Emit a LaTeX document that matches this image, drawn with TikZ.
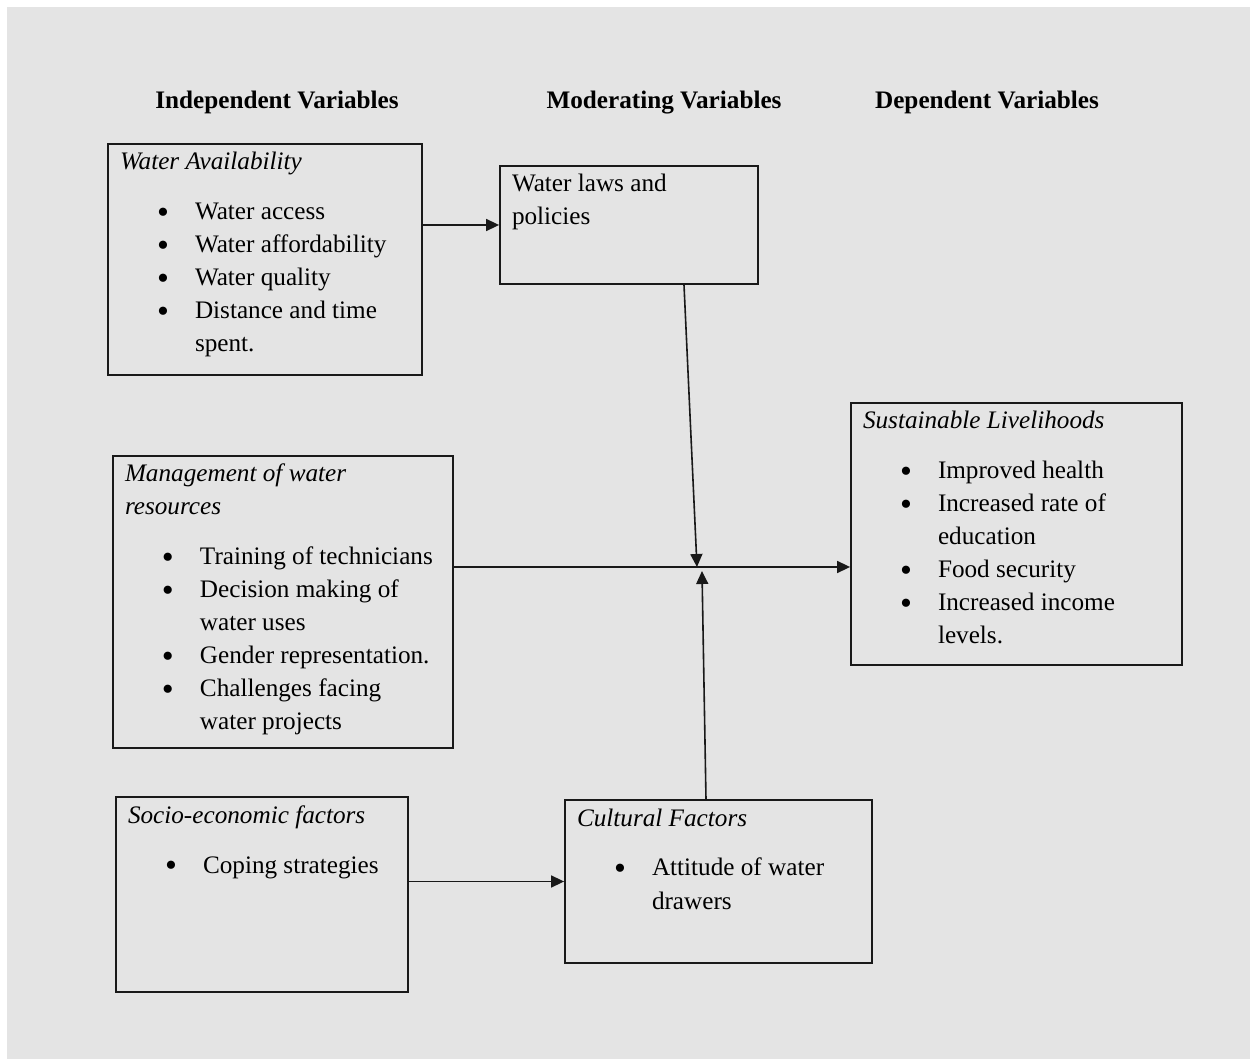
\documentclass[tikz,border=0pt]{standalone}
\usepackage{fontspec}
\setmainfont{Liberation Serif}
\usetikzlibrary{arrows.meta}
\definecolor{pagegray}{HTML}{E4E4E4}
\newcommand{\btitle}[1]{\rule{0pt}{13pt}\textit{#1}\par\vspace{8.5pt}}
\newcommand{\bitem}[1]{\par\noindent\hangindent=37.5pt\makebox[37.5pt][l]{\hspace{18.5pt}\raisebox{-1.8pt}{\scalebox{1.35}{\textbullet}}}#1}
\newcommand{\varbox}[5]{\node[varbox] at (#1) (#2) {\parbox[c][#4][t]{#3}{#5}}}

\begin{document}
\begin{tikzpicture}[x=0.5pt,y=-0.5pt,
    font=\fontsize{12.6pt}{16.5pt}\selectfont,
    varbox/.style={draw=black!90,line width=0.9pt,inner xsep=6pt,inner ysep=0pt},
    head/.style={anchor=base,font=\fontsize{12.6pt}{16.5pt}\selectfont\bfseries},
    link/.style={line width=0.8pt,black!90,-{Triangle[length=6.5pt,width=6pt]}}]
    \fill[white] (0,0) rectangle (1250,1059);
    \fill[pagegray] (7,7) rectangle (1250,1059);
    \useasboundingbox (0,0) rectangle (1250,1059);

    \node[head] at (277,109) (hInd) {Independent Variables};
    \node[head] at (664,109) (hMod) {Moderating Variables};
    \node[head] at (987,109) (hDep) {Dependent Variables};

    \varbox{265,259.5}{wa}{145pt}{115.5pt}{\btitle{Water Availability}
        \bitem{Water access}
        \bitem{Water affordability}
        \bitem{Water quality}
        \bitem{Distance and time\\ spent.}};
    \varbox{629,225}{wl}{117pt}{59pt}{\rule{0pt}{13pt}Water laws and\\ policies};
    \varbox{283,602}{mg}{158pt}{146pt}{\btitle{Management of water\\ resources}
        \bitem{Training of technicians}
        \bitem{Decision making of\\ water uses}
        \bitem{Gender representation.}
        \bitem{Challenges facing\\ water projects}};
    \varbox{1016.5,534}{sl}{153.5pt}{131pt}{\btitle{Sustainable Livelihoods}
        \bitem{Improved health}
        \bitem{Increased rate of\\ education}
        \bitem{Food security}
        \bitem{Increased income\\ levels.}};
    \varbox{262,894.5}{se}{134pt}{97.5pt}{\btitle{Socio-economic factors}
        \bitem{Coping strategies}};
    \varbox{718.5,881.5}{cf}{141.5pt}{81.5pt}{\btitle{Cultural Factors}
        \bitem{Attitude of water\\ drawers}};

    % meeting point of the moderating arrows
    \coordinate (jdown) at (697,567);
    \coordinate (jup) at (702,571);

    \draw[link] (wa.east |- wl.west) -- (wl.west);
    \draw[link] ([xshift=27.5pt]wl.south) -- (jdown);
    \draw[link] (mg.east |- jdown) -- (sl.west |- jdown);
    \draw[link] ([xshift=-6.25pt]cf.north) -- (jup);
    \draw[link] (se.east |- cf.west) -- (cf.west);
\end{tikzpicture}
\end{document}
